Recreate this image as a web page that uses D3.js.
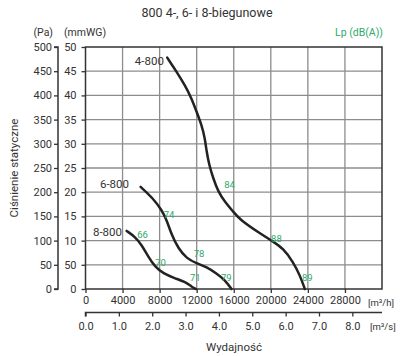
<!DOCTYPE html>
<html><head><meta charset="utf-8">
<script src="https://cdn.jsdelivr.net/npm/d3@7"></script>
<style>body{margin:0;background:#fff;font-family:Roboto,"Noto Sans",sans-serif;}</style>
</head><body><svg id="c" width="407" height="356"></svg>
<script>
const title = "800 4-, 6- i 8-biegunowe";
const flowTicks = [0,4000,8000,12000,16000,20000,24000,28000];
const m3sTicks = [0,1,2,3,4,5,6,7,8];
const m3sLabels = ["0.0","1.0","2.0","3.0","4.0","5.0","6.0","7.0","8.0"];
const paTicks = [0,50,100,150,200,250,300,350,400,450,500];
const mmwgLabels = ["0","50","10","15","20","25","30","35","40","45","50"];
const curve4 = [[8820,478],[9830,449],[10730,421],[11450,394],[11990,366],[12530,339],[12880,312],[13070,284],[13350,256],[13780,229],[14320,201],[15040,180],[15930,160],[16680,143],[18830,115],[20250,98],[21330,84],[22400,56],[23130,29],[23670,0]];
const curve6 = [[5950,211],[7310,187],[8220,163],[8760,143],[9290,112],[10010,84],[10910,63],[11990,53],[13070,46],[14150,32],[15040,19],[15760,0]];
const curve8 = [[4440,120],[5340,108],[6060,91],[6770,67],[7490,46],[8390,32],[9650,22],[10730,15],[11450,5],[11900,0]];
const curveNames = ["4-800","6-800","8-800"];
const curveNamePos = [[8460,462],[4690,209],[3940,110]];
const lpValues = ["66","70","71","74","78","79","84","88","89"];
const lpPos = [[5580,106],[7530,48],[11270,17],[8440,147],[11680,66],[14620,17],[14970,208],[20030,98],[23360,17]];

const svg = d3.select("#c");
const x = d3.scaleLinear().domain([0,32000]).range([85.5,382]);
const y = d3.scaleLinear().domain([0,500]).range([289,47]);
const xs = d3.scaleLinear().domain([0,32000/3600]).range([85.5,382]);
const dark="#333", grid="#8c8c8c", green="#2eaa6c";

svg.append("text").attr("x",207).attr("y",17).attr("text-anchor","middle").attr("font-size",12.5).attr("fill",dark).text(title);
svg.append("text").attr("x",53).attr("y",36).attr("text-anchor","end").attr("font-size",10.5).attr("fill",dark).text("(Pa)");
svg.append("text").attr("x",64).attr("y",36).attr("font-size",10.5).attr("fill",dark).text("(mmWG)");
svg.append("text").attr("x",383).attr("y",36).attr("text-anchor","end").attr("font-size",10.5).attr("fill",green).text("Lp (dB(A))");

const g = svg.append("g");
g.selectAll(".vg").data(flowTicks.slice(1)).join("line").attr("x1",d=>x(d)).attr("x2",d=>x(d)).attr("y1",y(0)).attr("y2",y(500)).attr("stroke",grid).attr("stroke-width",1.3);
g.selectAll(".hg").data(paTicks.slice(1,-1)).join("line").attr("y1",d=>y(d)).attr("y2",d=>y(d)).attr("x1",x(0)).attr("x2",x(32000)).attr("stroke",grid).attr("stroke-width",1.3);
g.append("rect").attr("x",x(0)).attr("y",y(500)).attr("width",x(32000)-x(0)).attr("height",y(0)-y(500)).attr("fill","none").attr("stroke",dark).attr("stroke-width",1.5);

const paAxis = svg.append("g").attr("transform","translate(58,0)")
  .call(d3.axisLeft(y).tickValues(paTicks).tickSize(4).tickPadding(2));
paAxis.select(".domain").attr("stroke",dark).attr("stroke-width",1.5).attr("d",`M-4,${y(500)}H0V${y(0)}H-4`);
paAxis.selectAll("line").attr("stroke",dark).attr("stroke-width",1.3);
paAxis.selectAll("text").attr("font-size",11).attr("fill",dark).attr("font-family","Roboto");

const mmAxis = svg.append("g").attr("transform",`translate(${x(0)},0)`)
  .call(d3.axisLeft(y).tickValues(paTicks).tickSize(4).tickPadding(5).tickFormat((d,i)=>mmwgLabels[i]));
mmAxis.select(".domain").remove();
mmAxis.selectAll("line").attr("stroke",dark).attr("stroke-width",1.3);
mmAxis.selectAll("text").attr("font-size",11).attr("fill",dark).attr("font-family","Roboto");

const fAxis = svg.append("g").attr("transform",`translate(0,${y(0)})`)
  .call(d3.axisBottom(x).tickValues(flowTicks).tickSize(4).tickPadding(3).tickFormat(d3.format("d")));
fAxis.select(".domain").remove();
fAxis.selectAll("line").attr("stroke",dark).attr("stroke-width",1.3);
fAxis.selectAll("text").attr("font-size",11).attr("fill",dark).attr("font-family","Roboto");
svg.append("text").attr("x",368).attr("y",306).attr("font-size",9.5).attr("fill",dark).text("[m³/h]");

const sAxis = svg.append("g").attr("transform","translate(0,312.5)")
  .call(d3.axisBottom(xs).tickValues(m3sTicks).tickSize(4).tickPadding(6).tickFormat((d,i)=>m3sLabels[i]));
sAxis.select(".domain").attr("stroke",dark).attr("stroke-width",1.5).attr("d",`M${x(0)},4V0H382`);
sAxis.selectAll("line").attr("stroke",dark).attr("stroke-width",1.3);
sAxis.selectAll("text").attr("font-size",11).attr("fill",dark).attr("font-family","Roboto");
svg.append("text").attr("x",370).attr("y",330).attr("font-size",9.5).attr("fill",dark).text("[m³/s]");

svg.append("text").attr("x",234).attr("y",351).attr("text-anchor","middle").attr("font-size",11.5).attr("fill",dark).text("Wydajność");
svg.append("text").attr("transform","translate(18,168) rotate(-90)").attr("text-anchor","middle").attr("font-size",11.5).attr("fill",dark).text("Ciśnienie statyczne");

const line = d3.line().x(d=>x(d[0])).y(d=>y(d[1])).curve(d3.curveBasis);
[curve4,curve6,curve8].forEach(c=>{
  svg.append("path").attr("d",line(c)).attr("fill","none").attr("stroke","#222").attr("stroke-width",2.5).attr("stroke-linecap","round");
});
curveNames.forEach((n,i)=>{
  svg.append("text").attr("x",x(curveNamePos[i][0])).attr("y",y(curveNamePos[i][1])).attr("text-anchor","end").attr("font-size",11.5).attr("fill",dark).text(n);
});
lpValues.forEach((v,i)=>{
  svg.append("text").attr("x",x(lpPos[i][0])).attr("y",y(lpPos[i][1])).attr("font-size",9.5).attr("fill",green).text(v);
});
</script></body></html>
